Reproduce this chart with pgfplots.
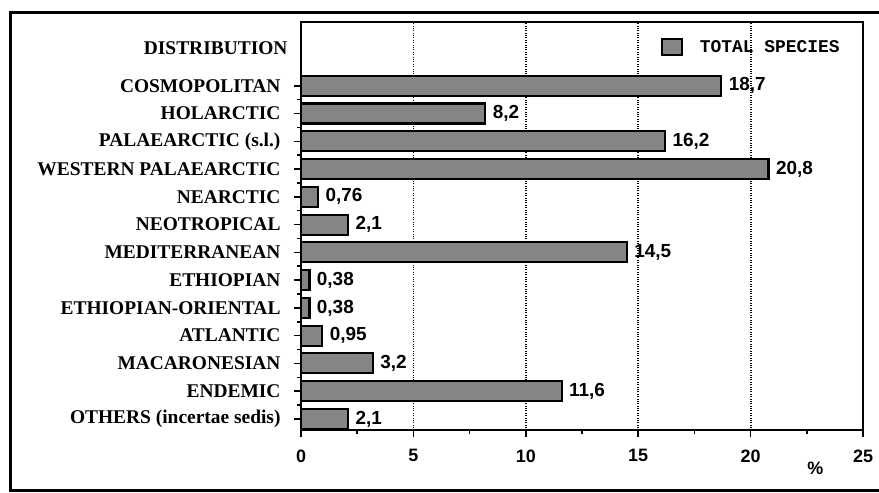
\documentclass[border=0pt]{standalone}
\usepackage{pgfplots}
\pgfplotsset{compat=1.18}
\usepackage{pgfplotstable}
\usepackage{fontspec}
\setmainfont{Liberation Serif}
\newfontfamily\lsans{Liberation Sans}
\newfontfamily\lmono{Liberation Mono}
\definecolor{barfill}{gray}{0.52}
\pgfplotstableread{
y v lab
0 2.1 2,1
1 11.6 11,6
2 3.2 3,2
3 0.95 0,95
4 0.38 0,38
5 0.38 0,38
6 14.5 14,5
7 2.1 2,1
8 0.76 0,76
9 20.8 20,8
10 16.2 16,2
11 8.2 8,2
12 18.7 18,7
}\data
\begin{document}
\begin{tikzpicture}
\path[use as bounding box] (0,0) rectangle (879bp,493bp);
\draw[line width=3bp] (880bp,480bp) -- (10bp,480bp) -- (10bp,2bp) -- (880bp,2bp);
\begin{axis}[
  at={(301bp,63bp)}, anchor=south west,
  width=562bp, height=408bp, scale only axis,
  xbar, bar width=20bp,
  xmin=0, xmax=25, ymin=-0.4, ymax=14.3,
  xtick={0,5,10,15,20,25},
  minor x tick num=1,
  ytick={0,...,12},
  yticklabels={OTHERS (incertae sedis),ENDEMIC,MACARONESIAN,ATLANTIC,ETHIOPIAN-ORIENTAL,ETHIOPIAN,MEDITERRANEAN,NEOTROPICAL,NEARCTIC,WESTERN PALAEARCTIC,PALAEARCTIC (s.l.),HOLARCTIC,COSMOPOLITAN},
  minor y tick num=1,
  xtick pos=bottom, ytick pos=left,
  extra y ticks={13.37},
  extra y tick labels={DISTRIBUTION},
  extra y tick style={major tick length=0pt, ymajorgrids=false},
  tick align=outside,
  major tick length=7bp, minor tick length=4bp,
  tick style={black, line width=1.5bp},
  axis line style={line width=2bp},
  xmajorgrids=true,
  grid style={black, dotted, line width=1.8bp},
  /pgf/number format/assume math mode=true,
  xticklabel style={font=\lsans\bfseries\fontsize{18}{18}\selectfont, yshift=-9bp},
  yticklabel style={font=\bfseries\fontsize{19.5}{20}\selectfont, xshift=-10bp},
  xlabel={\%},
  xlabel style={at={(axis description cs:0.915,-0.093)}, anchor=center, font=\lsans\bfseries\fontsize{18}{18}\selectfont},
  nodes near coords,
  point meta=explicit symbolic,
  every node near coord/.append style={font=\lsans\bfseries\fontsize{19}{19}\selectfont, anchor=west, xshift=3bp, black},
  legend style={at={(axis description cs:0.6406,0.939)}, anchor=west, draw=none, fill=none, inner sep=0pt, outer sep=0pt,
    font=\lmono\bfseries\fontsize{18}{18}\selectfont, nodes={inner sep=0pt}},
  legend image code/.code={\draw[fill=barfill, draw=black, line width=1.5bp] (0bp,-8bp) rectangle (20bp,8bp); \path (37bp,0bp);},
]
\addplot[fill=barfill, draw=black, line width=2.2bp] table[x=v, y=y, meta=lab] {\data};
\addlegendentry{TOTAL SPECIES}
\end{axis}
\end{tikzpicture}
\end{document}
